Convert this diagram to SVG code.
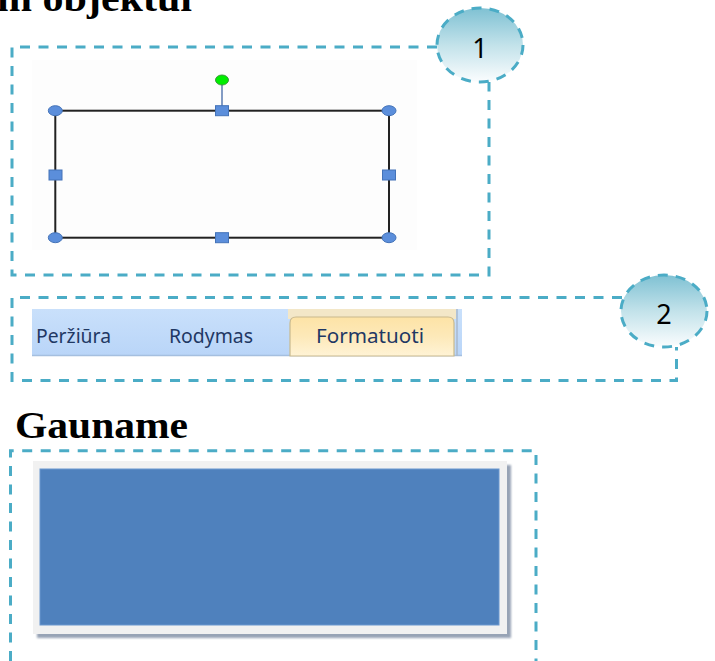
<svg xmlns="http://www.w3.org/2000/svg" width="715" height="661" viewBox="0 0 715 661">
<defs>
<linearGradient id="badgeGrad" x1="0" y1="0" x2="0" y2="1">
<stop offset="0" stop-color="#7fc1d3"/>
<stop offset="0.5" stop-color="#c2e2ea"/>
<stop offset="1" stop-color="#fbfdfe"/>
</linearGradient>
<linearGradient id="stripGrad" x1="0" y1="0" x2="0" y2="1">
<stop offset="0" stop-color="#c9e0fb"/>
<stop offset="1" stop-color="#b9d5f8"/>
</linearGradient>
<linearGradient id="tabGrad" x1="0" y1="0" x2="0" y2="1">
<stop offset="0" stop-color="#fde3a6"/>
<stop offset="0.5" stop-color="#fde9b9"/>
<stop offset="1" stop-color="#fff3d6"/>
</linearGradient>
<filter id="blur1" x="-5%" y="-5%" width="110%" height="110%">
<feGaussianBlur stdDeviation="1"/>
</filter>
</defs>
<style>
.dash{fill:none;stroke:#4bacc6;stroke-width:3;stroke-dasharray:10 8.5}
.badge{fill:url(#badgeGrad);stroke:#4bacc6;stroke-width:3;stroke-dasharray:10 8}
.num{font-family:"Noto Sans","Open Sans",sans-serif;font-size:27px;fill:#000;text-anchor:middle}
.head{font-family:"Liberation Serif","Times New Roman",serif;font-weight:bold;font-size:38px;fill:#000}
.tab{font-family:"Noto Sans","Open Sans",sans-serif;font-size:20.5px;fill:#1f3864}
.handle{fill:#5b8edb;stroke:#4473b8;stroke-width:1}
</style>
<rect width="715" height="661" fill="#ffffff"/>

<g id="title">
<text class="head" x="-3" y="11" textLength="195" lengthAdjust="spacingAndGlyphs">m objektui</text>
</g>

<g id="box1">
<rect x="32" y="60" width="385" height="190" fill="#fdfdfd"/>
<path class="dash" d="M437,47 H12 V275 H489 V82"/>
<line x1="222" y1="84" x2="222" y2="106" stroke="#5a7bb0" stroke-width="1.5"/>
<rect x="55.3" y="110.7" width="333.7" height="127" fill="none" stroke="#222" stroke-width="2"/>
<ellipse class="handle" cx="55.3" cy="110.7" rx="7" ry="5"/>
<ellipse class="handle" cx="389" cy="110.7" rx="7" ry="5"/>
<ellipse class="handle" cx="55.3" cy="237.7" rx="7" ry="5"/>
<ellipse class="handle" cx="389" cy="237.7" rx="7" ry="5"/>
<rect class="handle" x="215.5" y="105.7" width="13" height="10"/>
<rect class="handle" x="215.5" y="232.7" width="13" height="10"/>
<rect class="handle" x="49" y="170" width="13" height="10"/>
<rect class="handle" x="382.5" y="170" width="13" height="10"/>
<ellipse cx="222" cy="80" rx="6.5" ry="5" fill="#00ee00" stroke="#3c9a3c" stroke-width="1"/>
</g>

<g id="badge1">
<ellipse class="badge" cx="480" cy="45" rx="43" ry="37"/>
<text class="num" x="480" y="58">1</text>
</g>

<g id="box2">
<path class="dash" d="M622,297.5 H12 V380.5 H676.5 V347"/>
<rect x="32" y="309" width="430" height="47" fill="url(#stripGrad)"/>
<line x1="32" y1="355.5" x2="462" y2="355.5" stroke="#a5bfdf" stroke-width="1.5"/>
<rect x="288" y="309" width="168" height="10" fill="#f3e7c8"/>
<line x1="457" y1="309" x2="457" y2="356" stroke="#a9b8cc" stroke-width="1.5"/>
<path d="M290,356 V323 Q290,317 296,317 H448 Q454,317 454,323 V356 Z" fill="url(#tabGrad)" stroke="#c9b98e" stroke-width="1.2"/>
<text class="tab" x="36" y="343" textLength="75" lengthAdjust="spacingAndGlyphs">Peržiūra</text>
<text class="tab" x="169" y="343" textLength="84" lengthAdjust="spacingAndGlyphs">Rodymas</text>
<text class="tab" x="316" y="343" textLength="108" lengthAdjust="spacingAndGlyphs" fill="#2b2b2b">Formatuoti</text>
</g>

<g id="badge2">
<ellipse class="badge" cx="664" cy="311" rx="43" ry="36"/>
<text class="num" x="664" y="324">2</text>
</g>

<g id="gauname">
<text class="head" x="15" y="438" textLength="173" lengthAdjust="spacingAndGlyphs">Gauname</text>
</g>

<g id="box3">
<path class="dash" d="M10.5,661 V450.7 H536 V661"/>
<rect x="37" y="465" width="474" height="173" fill="#97a3b5" filter="url(#blur1)"/>
<rect x="33" y="461" width="474" height="173" fill="#f1f1f1"/>
<rect x="40" y="469" width="459" height="156" fill="#4f81bd" stroke="#6b97cf" stroke-width="1"/>
</g>
</svg>
